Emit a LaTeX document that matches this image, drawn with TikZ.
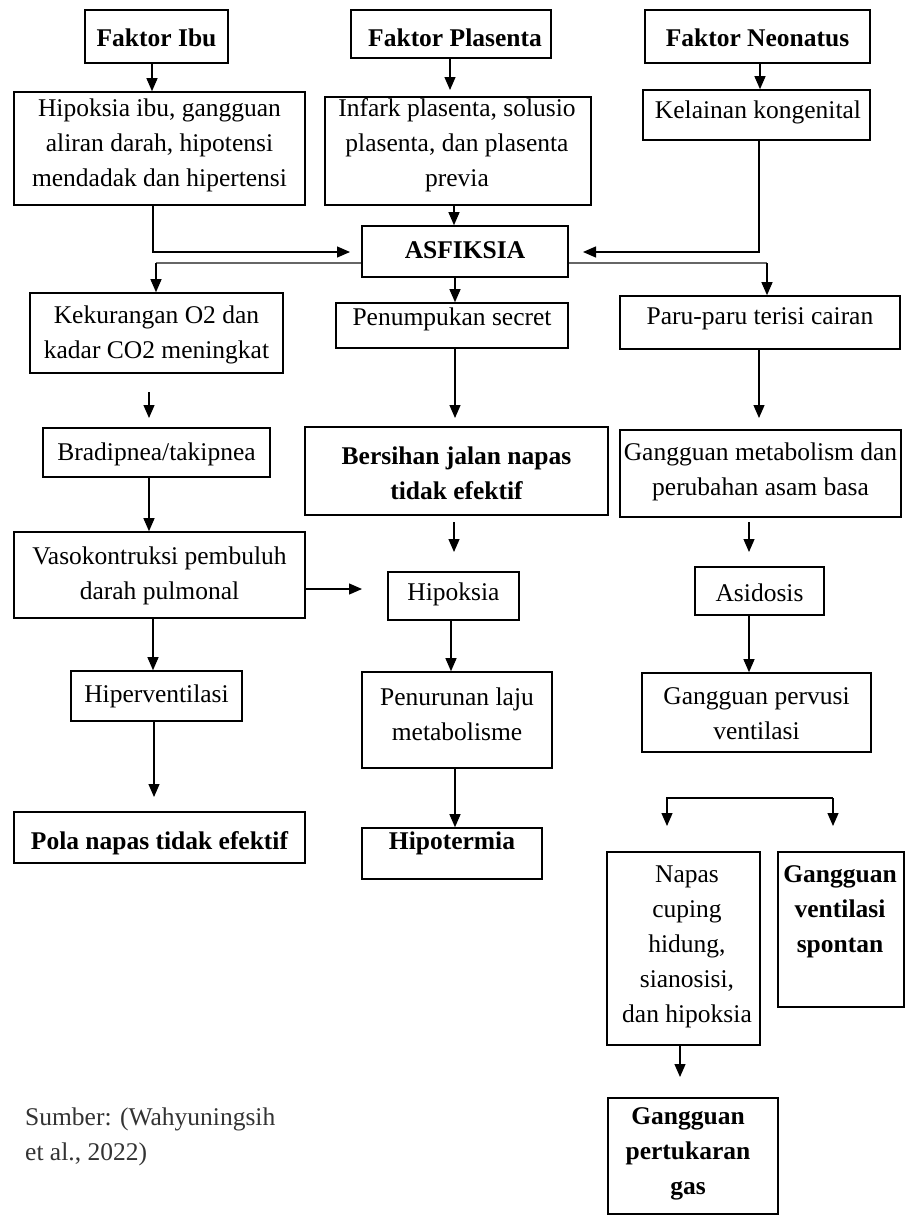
\documentclass[tikz,border=0pt]{standalone}
\usepackage{fontspec}
\setmainfont{Liberation Serif}
\usetikzlibrary{arrows.meta}
\tikzset{
  bx/.style={draw, line width=1.6pt, fill=white, inner sep=0pt},
  tx/.style={font=\fontsize{25.5pt}{35pt}\selectfont, align=center, inner sep=0pt},
  bt/.style={font=\fontsize{25.5pt}{35pt}\selectfont\bfseries, align=center, inner sep=0pt},
  ar/.style={-{Triangle[width=11pt,length=13pt]}, line width=1.2pt},
  ln/.style={line width=1.2pt},
  gl/.style={line width=2.3pt, draw=black!60},
}
\begin{document}
\begin{tikzpicture}[x=1pt,y=-1pt]
\fill[white] (0,0) rectangle (907,1215);
\useasboundingbox (0,0) rectangle (907,1215);

% row 1
\node[bx, minimum width=143pt, minimum height=53pt] (fIbu) at (156.5,36.5) {};
\node[bt] (fIbuT) at (156.5,38) {Faktor Ibu};
\node[bx, minimum width=200pt, minimum height=48pt] (fPla) at (451,34) {};
\node[bt] (fPlaT) at (455,38) {Faktor Plasenta};
\node[bx, minimum width=225pt, minimum height=53pt] (fNeo) at (757.5,36.5) {};
\node[bt] (fNeoT) at (757.5,38) {Faktor Neonatus};

% row 2
\node[bx, minimum width=291pt, minimum height=113pt] (hIbu) at (159.5,148.5) {};
\node[tx] (hIbuT) at (159.5,145) {Hipoksia ibu, gangguan\\aliran darah, hipotensi\\mendadak dan hipertensi};
\node[bx, minimum width=266pt, minimum height=108pt] (inf) at (458,151) {};
\node[tx] (infT) at (457,145) {Infark plasenta, solusio\\plasenta, dan plasenta\\previa};
\node[bx, minimum width=227pt, minimum height=50pt] (kel) at (756.5,115) {};
\node[tx] (kelT) at (758,112) {Kelainan kongenital};

% asfiksia
\coordinate (gL) at (156,263);
\coordinate (gR) at (767,263);
\draw[gl] (gL) -- (gR);
\node[bx, minimum width=206pt, minimum height=51pt] (asf) at (465,251.5) {};
\node[bt] (asfT) at (465,250) {ASFIKSIA};

% row 3
\node[bx, minimum width=253pt, minimum height=80pt] (kek) at (156.5,333) {};
\node[tx] (kekT) at (156.5,335) {Kekurangan O2 dan\\kadar CO2 meningkat};
\node[bx, minimum width=232pt, minimum height=45pt] (pen) at (452,325.5) {};
\node[tx] (penT) at (452,319) {Penumpukan secret};
\node[bx, minimum width=280pt, minimum height=53pt] (paru) at (760,322.5) {};
\node[tx] (paruT) at (760,319) {Paru-paru terisi cairan};

% row 4
\node[bx, minimum width=227pt, minimum height=49pt] (brad) at (156.5,452.5) {};
\node[tx] (bradT) at (156.5,454) {Bradipnea/takipnea};
\node[bx, minimum width=303pt, minimum height=88pt] (bers) at (456.5,471) {};
\node[bt] (bersT) at (456.5,473) {Bersihan jalan napas\\tidak efektif};
\node[bx, minimum width=281pt, minimum height=87pt] (meta) at (760.5,473.5) {};
\node[tx] (metaT) at (760.5,472) {Gangguan metabolism dan\\perubahan asam basa};

% row 5
\node[bx, minimum width=291pt, minimum height=86pt] (vaso) at (159.5,575) {};
\node[tx] (vasoT) at (159.5,576) {Vasokontruksi pembuluh\\darah pulmonal};
\node[bx, minimum width=131pt, minimum height=48pt] (hip) at (453.5,596) {};
\node[tx] (hipT) at (453.5,594) {Hipoksia};
\node[bx, minimum width=129pt, minimum height=48pt] (asi) at (759.5,591) {};
\node[tx] (asiT) at (759.5,593) {Asidosis};

% row 6
\node[bx, minimum width=171pt, minimum height=50pt] (hiper) at (156.5,696) {};
\node[tx] (hiperT) at (156.5,696) {Hiperventilasi};
\node[bx, minimum width=190pt, minimum height=96pt] (penur) at (457,720) {};
\node[tx] (penurT) at (457,714) {Penurunan laju\\metabolisme};
\node[bx, minimum width=229pt, minimum height=79pt] (perv) at (756.5,712.5) {};
\node[tx] (pervT) at (756.5,714) {Gangguan pervusi\\ventilasi};

% row 7
\node[bx, minimum width=291pt, minimum height=51pt] (pola) at (159.5,837.5) {};
\node[bt] (polaT) at (159.5,843) {Pola napas tidak efektif};
\node[bx, minimum width=180pt, minimum height=51pt] (hipo) at (452,853.5) {};
\node[bt] (hipoT) at (452,843) {Hipotermia};

% lower right
\node[bx, minimum width=153pt, minimum height=193pt] (nap) at (683.5,948.5) {};
\node[tx] (napT) at (687,947) {Napas\\cuping\\hidung,\\sianosisi,\\dan hipoksia};
\node[bx, minimum width=126pt, minimum height=155pt] (vent) at (841,929.5) {};
\node[bt] (ventT) at (840,912) {Gangguan\\ventilasi\\spontan};
\node[bx, minimum width=170pt, minimum height=116pt] (pert) at (693,1156) {};
\node[bt] (pertT) at (688,1154) {Gangguan\\pertukaran\\gas};

% source
\node[tx, align=left, anchor=west, text=black!80] (src) at (25,1137) {Sumber: (Wahyuningsih\\et al., 2022)};

% connectors
\draw[ar] (fIbu.south -| 152,0) -- (hIbu.north -| 152,0);
\coordinate (pTip) at (450,90);
\draw[ar] (fPla.south -| 450,0) -- (pTip);
\draw[ar] (fNeo.south -| 760,0) -- (kel.north -| 760,0);
\coordinate (aL) at (350,252);
\draw[ar] (hIbu.south -| 153,0) |- (aL);
\draw[ar] (inf.south -| 454,0) -- (asf.north -| 454,0);
\coordinate (aR) at (583,252);
\draw[ar] (kel.south -| 759,0) |- (aR);
\draw[ar] (gL) -- (kek.north -| gL);
\draw[ar] (gR) -- (paru.north -| gR);
\draw[ar] (asf.south -| 455,0) -- (pen.north -| 455,0);

\coordinate (c1s) at (149,392);
\coordinate (c1e) at (149,418);
\draw[ar] (c1s) -- (c1e);
\coordinate (c2e) at (455,418);
\draw[ar] (pen.south -| 455,0) -- (c2e);
\coordinate (c3e) at (759,418);
\draw[ar] (paru.south -| 759,0) -- (c3e);

\draw[ar] (brad.south -| 149,0) -- (vaso.north -| 149,0);
\coordinate (d1s) at (454,522);
\coordinate (d1e) at (454,552);
\draw[ar] (d1s) -- (d1e);
\coordinate (d2s) at (749,522);
\coordinate (d2e) at (749,552);
\draw[ar] (d2s) -- (d2e);
\coordinate (vh) at (362,589);
\draw[ar] (vaso.east |- vh) -- (vh);

\draw[ar] (vaso.south -| 153,0) -- (hiper.north -| 153,0);
\draw[ar] (hip.south -| 451,0) -- (penur.north -| 451,0);
\draw[ar] (asi.south -| 749,0) -- (perv.north -| 749,0);

\coordinate (e1) at (154,797);
\draw[ar] (hiper.south -| 154,0) -- (e1);
\draw[ar] (penur.south -| 455,0) -- (hipo.north -| 455,0);

\coordinate (bR) at (833,798);
\coordinate (bLt) at (667,826);
\coordinate (bRt) at (833,826);
\draw[ar] (bR) -| (bLt);
\draw[ar] (bR) -- (bRt);

\coordinate (f1) at (680,1077);
\draw[ar] (nap.south -| 680,0) -- (f1);
\end{tikzpicture}
\end{document}
